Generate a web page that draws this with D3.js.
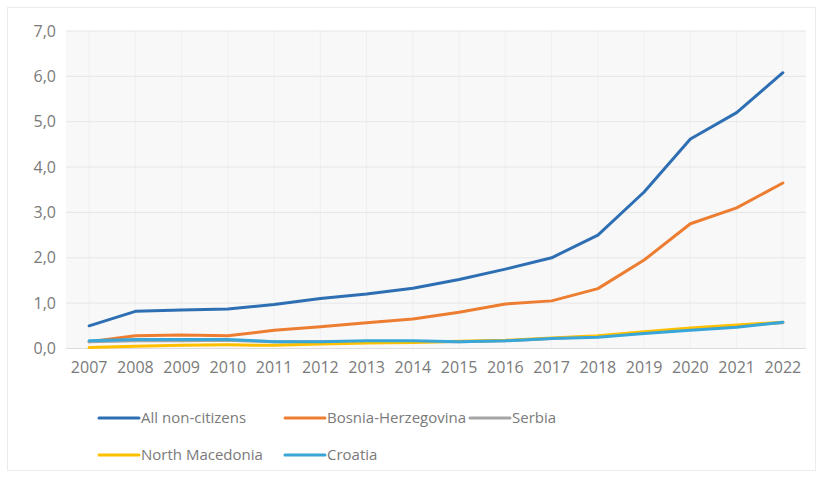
<!DOCTYPE html>
<html>
<head>
<meta charset="utf-8">
<script src="https://cdn.jsdelivr.net/npm/d3@7"></script>
<style>
  body { margin: 0; background: #fff; }
  text { font-family: "Open Sans", sans-serif; fill: #7a7a7a; }
</style>
</head>
<body>
<script>
const years = ["2007","2008","2009","2010","2011","2012","2013","2014","2015","2016","2017","2018","2019","2020","2021","2022"];
const yTicks = [0, 1, 2, 3, 4, 5, 6, 7];

const allNonCitizens = [0.50, 0.82, 0.85, 0.87, 0.97, 1.10, 1.20, 1.33, 1.52, 1.75, 2.00, 2.50, 3.45, 4.62, 5.20, 6.08];
const bosnia = [0.15, 0.28, 0.30, 0.28, 0.40, 0.48, 0.57, 0.65, 0.80, 0.98, 1.05, 1.32, 1.95, 2.75, 3.10, 3.65];
const serbia = [0.15, 0.17, 0.17, 0.18, 0.15, 0.15, 0.15, 0.15, 0.15, 0.17, 0.22, 0.27, 0.35, 0.43, 0.50, 0.57];
const northMacedonia = [0.02, 0.05, 0.07, 0.08, 0.07, 0.10, 0.12, 0.13, 0.16, 0.18, 0.23, 0.28, 0.37, 0.45, 0.52, 0.58];
const croatia = [0.17, 0.20, 0.20, 0.20, 0.15, 0.15, 0.17, 0.17, 0.15, 0.17, 0.22, 0.25, 0.33, 0.40, 0.47, 0.58];

const seriesNames = ["All non-citizens", "Bosnia-Herzegovina", "Serbia", "North Macedonia", "Croatia"];
const seriesValues = [allNonCitizens, bosnia, serbia, northMacedonia, croatia];
const seriesColors = ["#2e6fb4", "#ed7d31", "#a5a5a5", "#ffc000", "#38a6d8"];

const w = 823, h = 478;
const svg = d3.select("body").append("svg")
              .attr("width", w)
              .attr("height", h)

// outer chart frame
svg.append("rect")
   .attr("x", 7.5).attr("y", 7.5)
   .attr("width", w - 15).attr("height", h - 15)
   .attr("fill", "#fff")
   .attr("stroke", "#ebebeb")

const x = d3.scaleBand().domain(years).range([66, 806])
const y = d3.scaleLinear().domain([0, 7]).range([348.5, 31])

// plot background
svg.append("rect")
   .attr("x", 66).attr("y", y(7))
   .attr("width", 740).attr("height", y(0) - y(7))
   .attr("fill", "#f8f8f8")

// faint vertical grid
svg.append("g")
   .selectAll("line")
   .data(years)
   .enter()
   .append("line")
   .attr("x1", d => x(d) + x.bandwidth() / 2)
   .attr("x2", d => x(d) + x.bandwidth() / 2)
   .attr("y1", y(7)).attr("y2", y(0))
   .attr("stroke", "#efefef")

// horizontal grid
svg.append("g")
   .selectAll("line")
   .data(yTicks)
   .enter()
   .append("line")
   .attr("x1", 66).attr("x2", 806)
   .attr("y1", d => y(d)).attr("y2", d => y(d))
   .attr("stroke", d => d === 0 ? "#dcdcdc" : "#e6e6e6")

// y axis
const yAxis = svg.append("g")
                 .attr("transform", "translate(56,0)")
                 .call(d3.axisLeft(y).tickValues(yTicks).tickSize(0).tickFormat(d => d3.format(".1f")(d).replace(".", ",")))
      yAxis.select(".domain").remove()
      yAxis.selectAll("text")
           .style("font-size", "16px")
           .attr("x", 0)
           .style("fill", "#7a7a7a")

// x axis
const xAxis = svg.append("g")
                 .attr("transform", "translate(0," + y(0) + ")")
                 .call(d3.axisBottom(x).tickSize(0))
      xAxis.select(".domain").remove()
      xAxis.selectAll("text")
           .style("font-size", "16px")
           .attr("dy", "1.35em")
           .style("fill", "#7a7a7a")

const line = d3.line()
               .x((d, i) => x(years[i]) + x.bandwidth() / 2)
               .y(d => y(d))

// draw order: last series on top like Excel
seriesValues.forEach((vals, k) => {
    svg.append("path")
       .datum(vals)
       .attr("d", line)
       .attr("fill", "none")
       .attr("stroke", seriesColors[k])
       .attr("stroke-width", 3)
       .attr("stroke-linejoin", "round")
       .attr("stroke-linecap", "round")
})

// legend
const legendPos = [[99, 418], [285, 418], [470, 418], [99, 455], [285, 455]];
const legend = svg.append("g")
                  .selectAll("g")
                  .data(seriesNames)
                  .enter()
                  .append("g")
                  .attr("transform", (d, i) => "translate(" + legendPos[i][0] + "," + legendPos[i][1] + ")")

      legend.append("line")
            .attr("x1", 0).attr("x2", 40)
            .attr("stroke", (d, i) => seriesColors[i])
            .attr("stroke-width", 3)
            .attr("stroke-linecap", "round")

      legend.append("text")
            .attr("x", 42)
            .attr("dy", "0.35em")
            .text(d => d)
            .style("font-size", "15px")
</script>
</body>
</html>
